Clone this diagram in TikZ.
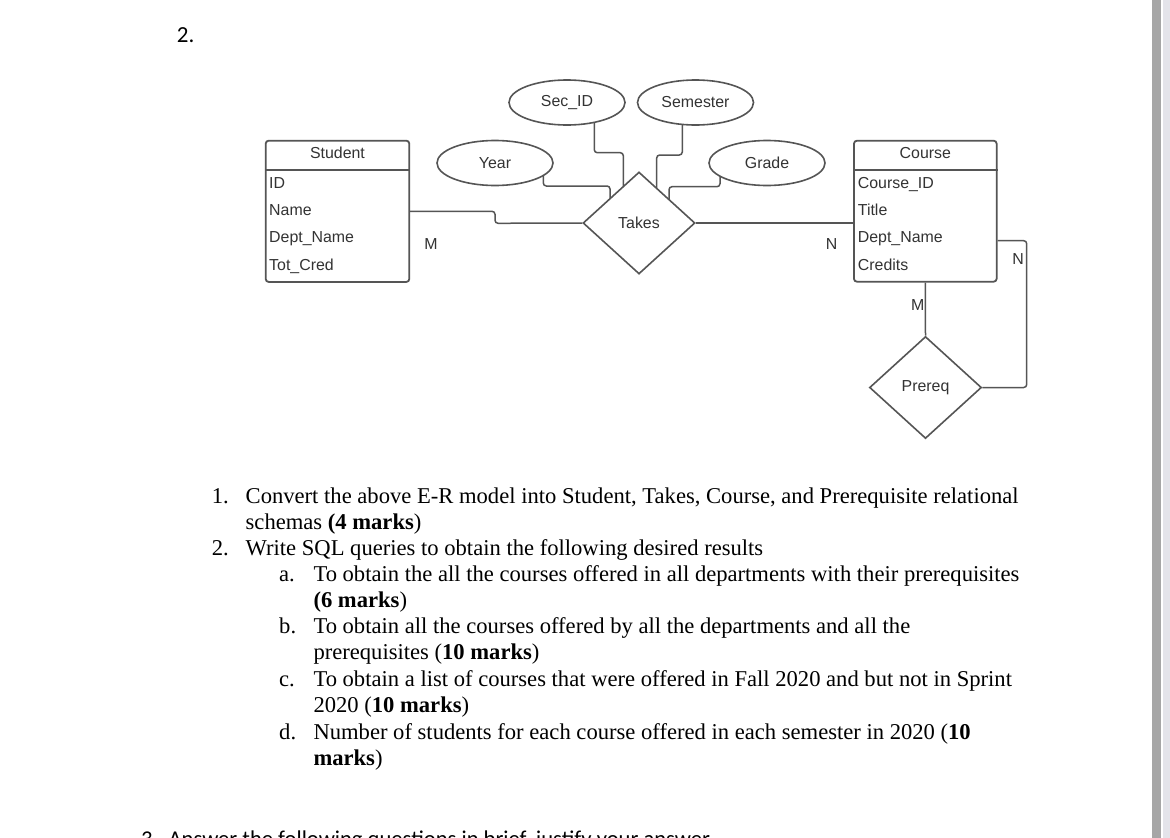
\documentclass[tikz,border=0pt]{standalone}
\usepackage{fontspec}
\setmainfont{Liberation Serif}
\newfontfamily\diagfont{Liberation Sans}
\newfontfamily\calfont{Carlito}
\usetikzlibrary{shapes.geometric}
\pgfdeclarelayer{background}
\pgfsetlayers{background,main}
\definecolor{lnc}{HTML}{555555}
\definecolor{txc}{HTML}{333333}
\definecolor{barc}{HTML}{A6A6A6}
\definecolor{edgec}{HTML}{E4E4EA}
\begin{document}
\begin{tikzpicture}[x=1pt,y=-1pt,
  dtext/.style={font=\diagfont\fontsize{15.9}{18}\selectfont, text=txc},
  entity/.style={draw=lnc, line width=1.8, rounded corners=3, fill=white, inner sep=0},
  attr/.style={ellipse, draw=lnc, line width=1.6, fill=white, minimum width=116, minimum height=45, inner sep=0, dtext},
  rel/.style={diamond, draw=lnc, line width=1.6, fill=white, minimum width=112, minimum height=102, inner sep=0, dtext},
  conn/.style={draw=lnc, line width=1.5, rounded corners=3},
  divider/.style={draw=lnc, line width=2.6},
  lbl/.style={dtext, anchor=base west, inner sep=0},
  card/.style={dtext, anchor=base, inner sep=0},
  body/.style={font=\fontsize{22.6}{26}\selectfont, anchor=base west, inner sep=0, text=black},
  cal/.style={font=\calfont\fontsize{23}{27}\selectfont, anchor=base west, inner sep=0, text=black},
]
\useasboundingbox (0,0) rectangle (1170,838);
\clip (0,0) rectangle (1170,838);
\begin{pgfonlayer}{background}
\fill[white] (0,0) rectangle (1170,838);
\fill[barc] (1152,0) rectangle (1161,838);
\fill[edgec] (1163,0) rectangle (1170,838);
\end{pgfonlayer}

% question number
\node[cal] (qnum) at (176.7,42.3) {2.};

% entities
\node[entity, minimum width=143.6, minimum height=141.3] (student) at (337.5,211.3) {};
\draw[divider] (student.west |- 0,170) -- (student.east |- 0,170);
\node[card] (studenth) at (337.5,158.7) {Student};
\node[lbl] (s1) at (269,188.7) {ID};
\node[lbl] (s2) at (269,215.7) {Name};
\node[lbl] (s3) at (269,242.7) {Dept\_Name};
\node[lbl] (s4) at (269,270.7) {Tot\_Cred};

\node[entity, minimum width=142.7, minimum height=141] (course) at (925.3,211.2) {};
\draw[divider] (course.west |- 0,170) -- (course.east |- 0,170);
\node[card] (courseh) at (925.3,158.7) {Course};
\node[lbl] (c1) at (857.7,188.7) {Course\_ID};
\node[lbl] (c2) at (857.7,215.7) {Title};
\node[lbl] (c3) at (857.7,242.7) {Dept\_Name};
\node[lbl] (c4) at (857.7,270.7) {Credits};

% attributes
\node[attr] (year) at (495,163) {Year};
\node[attr] (secid) at (567,102.5) {Sec\_ID};
\node[attr] (semester) at (695.5,102.5) {Semester};
\node[attr] (grade) at (767,163) {Grade};

% relationships
\node[rel] (takes) at (639,223) {Takes};
\node[rel] (prereq) at (925.5,387.5) {Prereq};

% connectors
\begin{pgfonlayer}{background}
\draw[conn] (student.east) -- (495,211.3) -- (495,223.3) -- (takes.west);
\draw[conn] ([xshift=48.3]year.center) -- (543.3,186) -- (610,186) -- (610,223);
\draw[conn] ([xshift=27.3]secid.center) -- (594.3,152.7) -- (623.3,152.7) -- (623.3,223);
\draw[conn] ([xshift=-13.2]semester.center) -- (682.3,155) -- (656.7,155) -- (656.7,223);
\draw[conn] ([xshift=-47]grade.center) -- (720,186.7) -- (669,186.7) -- (669,223);
\draw[conn] (takes.east) -- (course.west |- takes.east);
\draw[conn] (course.south) -- (prereq.north);
\draw[conn] (prereq.east) -- (1026.7,387.5) -- (1026.7,240.7) -- (course.east |- 0,240.7);
\end{pgfonlayer}

% cardinalities
\node[card] (m1) at (431,249.7) {M};
\node[card] (n1) at (831.7,249.7) {N};
\node[card] (m2) at (917.7,310.7) {M};
\node[card] (n2) at (1018,264.7) {N};

% question text
\node[body] (l1n) at (211.7,503.3) {1.};
\node[body] (l1) at (245.5,503.3) {Convert the above E-R model into Student, Takes, Course, and Prerequisite relational};
\node[body] (l2) at (245.5,529.3) {schemas \textbf{(4 marks})};
\node[body] (l3n) at (211.7,555.3) {2.};
\node[body] (l3) at (245.5,555.3) {Write SQL queries to obtain the following desired results};
\node[body] (lan) at (279,581.3) {a.};
\node[body] (la) at (313.3,581.3) {To obtain the all the courses offered in all departments with their prerequisites};
\node[body] (la2) at (313.3,607.3) {\textbf{(6 marks})};
\node[body] (lbn) at (279,633.5) {b.};
\node[body] (lb) at (313.3,633.5) {To obtain all the courses offered by all the departments and all the};
\node[body] (lb2) at (313.3,659.8) {prerequisites (\textbf{10 marks})};
\node[body] (lcn) at (279,686.2) {c.};
\node[body] (lc) at (313.3,686.2) {To obtain a list of courses that were offered in Fall 2020 and but not in Sprint};
\node[body] (lc2) at (313.3,712.6) {2020 (\textbf{10 marks})};
\node[body] (ldn) at (279,739) {d.};
\node[body] (ld) at (313.3,739) {Number of students for each course offered in each semester in 2020 (\textbf{10}};
\node[body] (ld2) at (313.3,765.2) {\textbf{marks})};

% next question, cut off by the page edge
\node[cal, font=\calfont\fontsize{22.6}{26}\selectfont] (q3) at (141,846.5) {3.\ \ Answer the following questions in brief, justify your answer.};
\end{tikzpicture}
\end{document}
